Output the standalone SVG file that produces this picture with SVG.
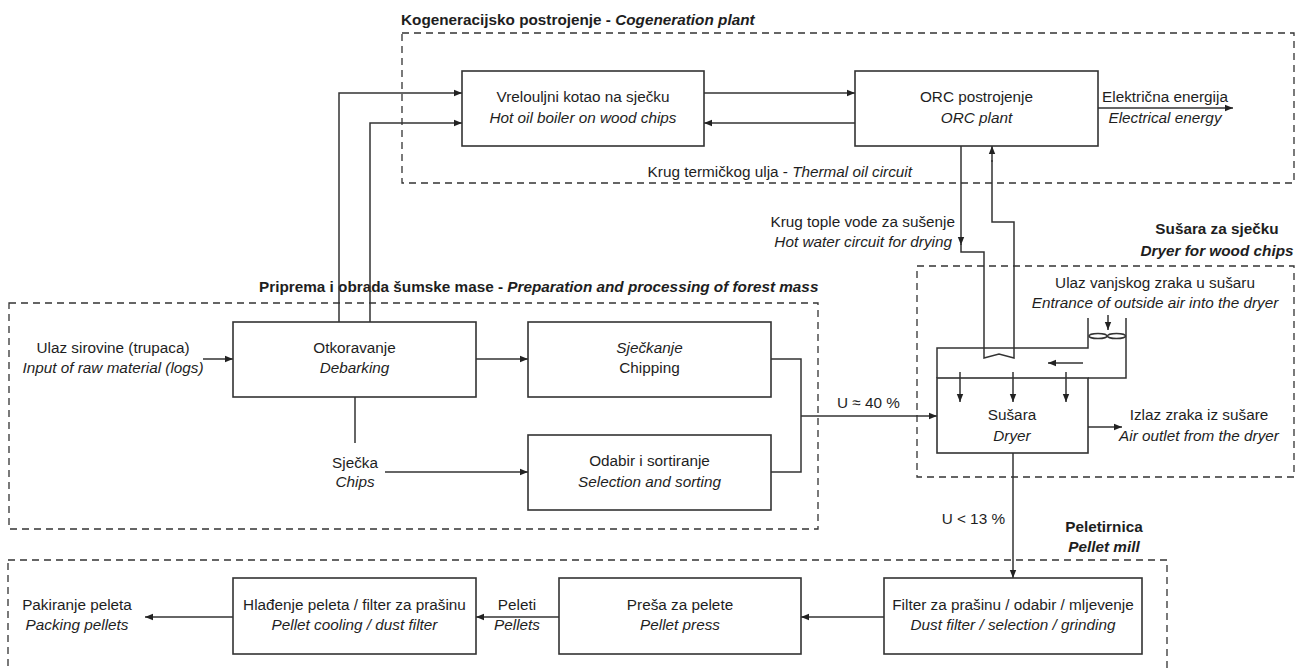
<svg xmlns="http://www.w3.org/2000/svg" width="1295" height="669" viewBox="0 0 1295 669">
<defs>
<style>
text{font-family:"Liberation Sans",Arial,Helvetica,sans-serif;font-size:15.3px;fill:#1e1e1e}
.it{font-style:italic}
.b{font-weight:bold}
.m{text-anchor:middle}
.e{text-anchor:end}
.box{fill:#fff;stroke:#333;stroke-width:1.6}
.grp{fill:none;stroke:#333;stroke-width:1.3;stroke-dasharray:7 5}
.ln{fill:none;stroke:#333;stroke-width:1.5}
.ar{marker-end:url(#ah)}
</style>
<marker id="ah" markerUnits="userSpaceOnUse" markerWidth="9" markerHeight="8" refX="8" refY="4" orient="auto">
<path d="M0,0.8 L8,4 L0,7.2 Z" fill="#222"/>
</marker>
</defs>
<rect width="1295" height="669" fill="#fff"/>

<g id="groups">
<rect class="grp" x="402" y="33" width="892" height="150"/>
<rect class="grp" x="9" y="303" width="809" height="226"/>
<rect class="grp" x="917" y="266" width="377" height="211"/>
<rect class="grp" x="8" y="560" width="1159" height="130"/>
<text x="401" y="25" class="b">Kogeneracijsko postrojenje - <tspan class="it">Cogeneration plant</tspan></text>
<text x="259" y="292" class="b">Priprema i obrada šumske mase - <tspan class="it">Preparation and processing of forest mass</tspan></text>
<text x="1217" y="234" class="b m">Sušara za sječku</text>
<text x="1217" y="256" class="b it m">Dryer for wood chips</text>
<text x="1104" y="532" class="b m">Peletirnica</text>
<text x="1104" y="552" class="b it m">Pellet mill</text>
</g>

<g id="connectors">
<path class="ln ar" d="M203,359 H233"/>
<path class="ln ar" d="M476,359 H528"/>
<path class="ln" d="M355,397 V443"/>
<path class="ln ar" d="M385,472 H528"/>
<path class="ln" d="M771,359 H801 V472 H771"/>
<path class="ln ar" d="M801,416 H937"/>
<path class="ln ar" d="M339,322 V93 H462"/>
<path class="ln ar" d="M370,322 V123 H462"/>
<path class="ln ar" d="M704,93 H855"/>
<path class="ln ar" d="M855,123 H704"/>
<path class="ln ar" d="M1098,108 H1233"/>
<path class="ln ar" d="M961,146 V245"/>
<path class="ln" d="M961,244 V252 H984 V358 L999,354 L1014,358 V222 H992 V160"/>
<path class="ln ar" d="M992,162 V146"/>
<path class="ln" d="M937,378 V348 H1088 V318 M1126,318 V378 H1088"/>
<path class="ln ar" d="M1083,363 H1048"/>
<ellipse class="ln" cx="1098" cy="336" rx="9" ry="2.6"/>
<ellipse class="ln" cx="1116.5" cy="336" rx="9" ry="2.6"/>
<path class="ln ar" d="M1108,315 V330"/>
<path class="ln ar" d="M1088,427 H1122"/>
<path class="ln ar" d="M1013,453 V578"/>
<path class="ln ar" d="M884,617 H801"/>
<path class="ln ar" d="M559,617 H476"/>
<path class="ln ar" d="M233,617 H145"/>
</g>

<g id="labels">
<text x="912" y="177" class="e">Krug termičkog ulja - <tspan class="it">Thermal oil circuit</tspan></text>
<text x="1165" y="102" class="m">Električna energija</text>
<text x="1165" y="123" class="m it">Electrical energy</text>
<text x="955" y="227" class="e">Krug tople vode za sušenje</text>
<text x="952" y="247" class="e it">Hot water circuit for drying</text>
<text x="1155" y="288" class="m">Ulaz vanjskog zraka u sušaru</text>
<text x="1155" y="308" class="m it">Entrance of outside air into the dryer</text>
<text x="1199" y="420" class="m">Izlaz zraka iz sušare</text>
<text x="1199" y="441" class="m it">Air outlet from the dryer</text>
<text x="837" y="408">U ≈ 40 %</text>
<text x="1005" y="524" class="e">U &lt; 13 %</text>
<text x="113" y="353" class="m">Ulaz sirovine (trupaca)</text>
<text x="113" y="373" class="m it">Input of raw material (logs)</text>
<text x="355" y="468" class="m">Sječka</text>
<text x="355" y="487" class="m it">Chips</text>
<text x="517" y="610" class="m">Peleti</text>
<text x="517" y="630" class="m it">Pellets</text>
<text x="77" y="610" class="m">Pakiranje peleta</text>
<text x="77" y="630" class="m it">Packing pellets</text>
</g>

<g id="boiler">
<rect class="box" x="462" y="71" width="242" height="75"/>
<text x="583" y="102" class="m">Vrelouljni kotao na sječku</text>
<text x="583" y="123" class="m it">Hot oil boiler on wood chips</text>
</g>
<g id="orc">
<rect class="box" x="855" y="71" width="243" height="75"/>
<text x="976.5" y="102" class="m">ORC postrojenje</text>
<text x="976.5" y="123" class="m it">ORC plant</text>
</g>
<g id="debarking">
<rect class="box" x="233" y="322" width="243" height="75"/>
<text x="354.5" y="353" class="m">Otkoravanje</text>
<text x="354.5" y="373" class="m it">Debarking</text>
</g>
<g id="chipping">
<rect class="box" x="528" y="322" width="243" height="75"/>
<text x="649.5" y="353" class="m it">Sječkanje</text>
<text x="649.5" y="373" class="m">Chipping</text>
</g>
<g id="selection">
<rect class="box" x="528" y="435" width="243" height="75"/>
<text x="649.5" y="466" class="m">Odabir i sortiranje</text>
<text x="649.5" y="487" class="m it">Selection and sorting</text>
</g>
<g id="dryer">
<rect class="box" x="937" y="378" width="151" height="75"/>
<path class="ln ar" d="M960,372 V402"/>
<path class="ln ar" d="M1013,372 V402"/>
<path class="ln ar" d="M1066,372 V402"/>
<text x="1012" y="420" class="m">Sušara</text>
<text x="1012" y="441" class="m it">Dryer</text>
</g>
<g id="filter">
<rect class="box" x="884" y="578" width="258" height="76"/>
<text x="1013" y="610" class="m">Filter za prašinu / odabir / mljevenje</text>
<text x="1013" y="630" class="m it">Dust filter / selection / grinding</text>
</g>
<g id="press">
<rect class="box" x="559" y="578" width="242" height="76"/>
<text x="680" y="610" class="m">Preša za pelete</text>
<text x="680" y="630" class="m it">Pellet press</text>
</g>
<g id="cooling">
<rect class="box" x="233" y="578" width="243" height="76"/>
<text x="354.5" y="610" class="m">Hlađenje peleta / filter za prašinu</text>
<text x="354.5" y="630" class="m it">Pellet cooling / dust filter</text>
</g>
</svg>
